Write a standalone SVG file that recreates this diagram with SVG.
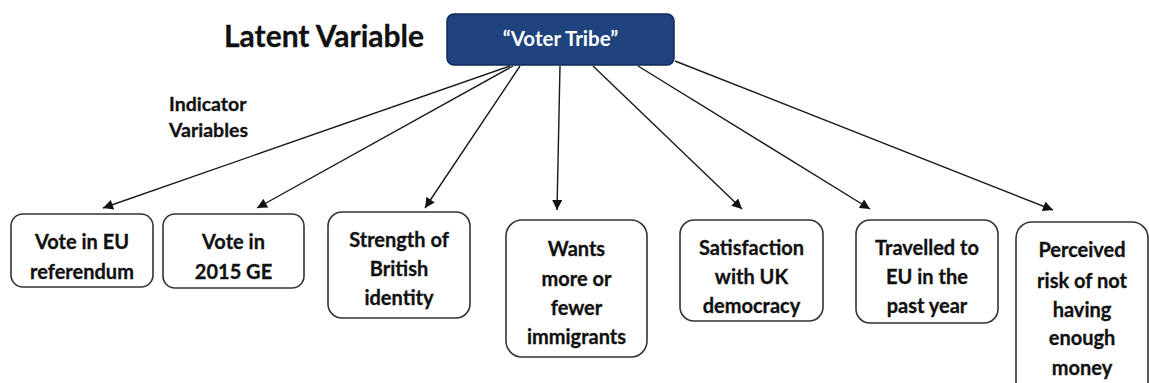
<svg xmlns="http://www.w3.org/2000/svg" width="1149" height="383" viewBox="0 0 1149 383">
  <defs>
    <marker id="arrow" viewBox="0 0 10 10" refX="10" refY="5" markerWidth="11" markerHeight="10" markerUnits="userSpaceOnUse" orient="auto">
      <path d="M0,0 L10,5 L0,10 z" fill="#111"/>
    </marker>
    <style>
      .title { font-family: Lato, "Liberation Sans", sans-serif; font-weight: 700; font-size: 30px; fill: #111; stroke: #111; stroke-width: 0.3; }
      .label { font-family: Lato, "Liberation Sans", sans-serif; font-weight: 700; font-size: 20px; fill: #111; stroke: #111; stroke-width: 0.3; text-anchor: middle; }
      .side { font-family: Lato, "Liberation Sans", sans-serif; font-weight: 700; font-size: 19.5px; fill: #111; stroke: #111; stroke-width: 0.3; }
      .head { font-family: Lato, "Liberation Sans", sans-serif; font-weight: 700; font-size: 20.5px; fill: #fff; text-anchor: middle; }
      .box { fill: #fff; stroke: #333; stroke-width: 1.6; }
      .latent { fill: #1f437d; stroke: #10295a; stroke-width: 1.5; }
      .edge { stroke: #1a1a1a; stroke-width: 1.4; fill: none; marker-end: url(#arrow); }
    </style>
  </defs>

  <rect width="1149" height="383" fill="#fff"/>

  <text class="title" x="224" y="47">Latent Variable</text>
  <text class="side" x="169" y="111">Indicator</text>
  <text class="side" x="169" y="137">Variables</text>

  <g id="voter-tribe">
    <rect class="latent" x="447" y="14" width="227" height="51" rx="7"/>
    <text class="head" x="560.5" y="46">“Voter Tribe”</text>
  </g>

  <g id="connectors">
    <line class="edge" x1="510" y1="66" x2="103" y2="208"/>
    <line class="edge" x1="513" y1="66" x2="257" y2="208"/>
    <line class="edge" x1="520" y1="66" x2="425" y2="208"/>
    <line class="edge" x1="560" y1="66" x2="557" y2="210"/>
    <line class="edge" x1="593" y1="66" x2="742" y2="209"/>
    <line class="edge" x1="638" y1="66" x2="870" y2="209"/>
    <line class="edge" x1="675" y1="61" x2="1053" y2="210"/>
  </g>

  <g id="eu-referendum">
    <rect class="box" x="11" y="214" width="142" height="73" rx="12"/>
    <text class="label" x="82" y="249">Vote in EU</text>
    <text class="label" x="82" y="279">referendum</text>
  </g>

  <g id="ge-2015">
    <rect class="box" x="163" y="214" width="141" height="74" rx="12"/>
    <text class="label" x="233.5" y="249">Vote in</text>
    <text class="label" x="233.5" y="279">2015 GE</text>
  </g>

  <g id="british-identity">
    <rect class="box" x="328" y="212" width="142" height="106" rx="14"/>
    <text class="label" x="399" y="247">Strength of</text>
    <text class="label" x="399" y="276">British</text>
    <text class="label" x="399" y="305">identity</text>
  </g>

  <g id="immigration">
    <rect class="box" x="506" y="220" width="141" height="137" rx="16"/>
    <text class="label" x="576.5" y="256">Wants</text>
    <text class="label" x="576.5" y="286">more or</text>
    <text class="label" x="576.5" y="315">fewer</text>
    <text class="label" x="576.5" y="344">immigrants</text>
  </g>

  <g id="uk-democracy">
    <rect class="box" x="680" y="220" width="143" height="101" rx="14"/>
    <text class="label" x="751.5" y="255">Satisfaction</text>
    <text class="label" x="751.5" y="284">with UK</text>
    <text class="label" x="751.5" y="313">democracy</text>
  </g>

  <g id="eu-travel">
    <rect class="box" x="856" y="220" width="142" height="103" rx="14"/>
    <text class="label" x="927" y="255">Travelled to</text>
    <text class="label" x="927" y="284">EU in the</text>
    <text class="label" x="927" y="313">past year</text>
  </g>

  <g id="money-risk">
    <rect class="box" x="1016" y="222" width="132" height="180" rx="16"/>
    <text class="label" x="1082" y="257">Perceived</text>
    <text class="label" x="1082" y="288">risk of not</text>
    <text class="label" x="1082" y="317">having</text>
    <text class="label" x="1082" y="345">enough</text>
    <text class="label" x="1082" y="375">money</text>
  </g>
</svg>
